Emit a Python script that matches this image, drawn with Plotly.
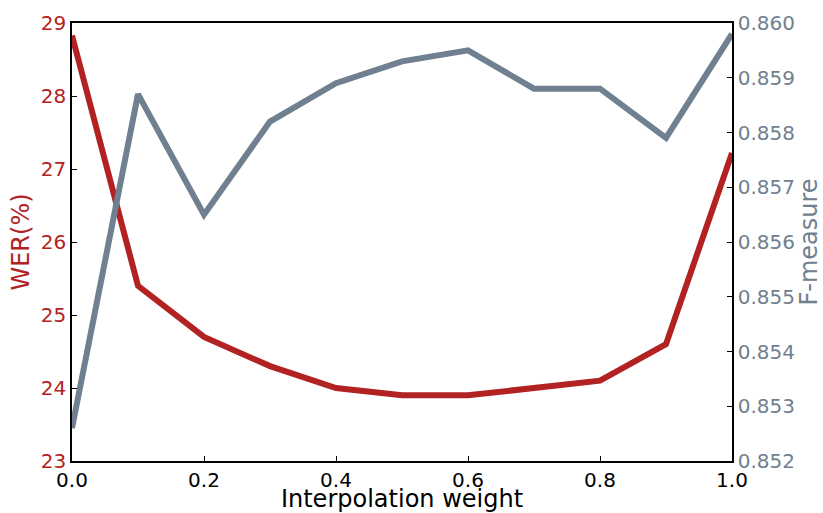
import plotly.graph_objects as go

weights = [0.0, 0.1, 0.2, 0.3, 0.4, 0.5, 0.6, 0.7, 0.8, 0.9, 1.0]
wer = [28.83, 25.4, 24.7, 24.3, 24.0, 23.9, 23.9, 24.0, 24.1, 24.6, 27.22]
fmeasure = [0.8526, 0.8587, 0.8565, 0.8582, 0.8589, 0.8593, 0.8595, 0.8588, 0.8588, 0.8579, 0.8598]

x_ticks = [0.0, 0.2, 0.4, 0.6, 0.8, 1.0]
x_labels = ["0.0", "0.2", "0.4", "0.6", "0.8", "1.0"]
wer_ticks = [23, 24, 25, 26, 27, 28, 29]
f_ticks = [0.852, 0.853, 0.854, 0.855, 0.856, 0.857, 0.858, 0.859, 0.860]
f_labels = ["%.3f" % v for v in f_ticks]

red = "#B22222"
gray = "#708090"
font = "DejaVu Sans"

fig = go.Figure()
fig.add_trace(go.Scatter(x=weights, y=wer, mode="lines", line=dict(color=red, width=6), yaxis="y", showlegend=False))
fig.add_trace(go.Scatter(x=weights, y=fmeasure, mode="lines", line=dict(color=gray, width=6), yaxis="y2", showlegend=False))

fig.update_layout(
    width=823, height=513,
    margin=dict(l=72, r=91, t=23, b=52, autoexpand=False),
    paper_bgcolor="white", plot_bgcolor="white",
    font=dict(family=font, size=20, color="black"),
    xaxis=dict(range=[0, 1], tickvals=x_ticks, ticktext=x_labels, ticks="inside", ticklen=5,
               tickcolor="black", showgrid=False, zeroline=False, showline=True, linecolor="black",
               linewidth=1.5, mirror=True, automargin=False,
               title=dict(text="Interpolation weight", font=dict(size=24, color="black"), standoff=0),
               tickfont=dict(size=20, color="black")),
    yaxis=dict(range=[23, 29], tickvals=wer_ticks, ticks="inside", ticklen=5, tickcolor="black",
               showgrid=False, zeroline=False, showline=True, linecolor="black", linewidth=1.5,
               automargin=False,
               title=dict(text="WER(%)", font=dict(size=24, color=red), standoff=4),
               tickfont=dict(size=20, color=red)),
    yaxis2=dict(range=[0.852, 0.860], tickvals=f_ticks, ticktext=f_labels, overlaying="y", side="right",
                ticks="inside", ticklen=5, tickcolor="black", showgrid=False, zeroline=False,
                showline=True, linecolor="black", linewidth=1.5, automargin=False,
                title=dict(text="F-measure", font=dict(size=24, color=gray), standoff=6),
                tickfont=dict(size=20, color=gray)),
)

fig.write_html("out.html")
